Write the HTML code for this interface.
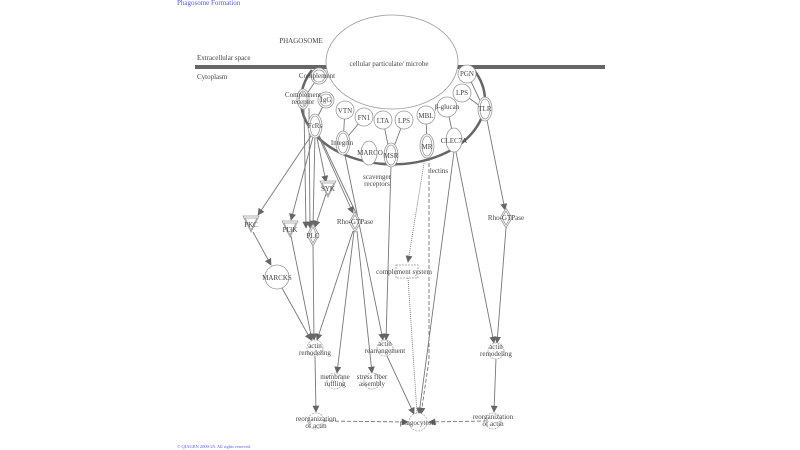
<!DOCTYPE html>
<html><head><meta charset="utf-8"><style>
html,body{margin:0;padding:0;background:#fff;width:800px;height:450px;overflow:hidden}
svg{display:block}
text{font-family:"Liberation Serif",serif;font-size:7px;fill:#444;text-anchor:middle}
.e{stroke:#777;stroke-width:0.9;fill:none}
.n{fill:#fff;stroke:#999;stroke-width:0.8}
.c{fill:#fff;stroke:#aaa;stroke-width:0.8;stroke-dasharray:2 1}
</style></head><body>
<svg width="800" height="450" viewBox="0 0 800 450" xmlns="http://www.w3.org/2000/svg">
<defs><marker id="a" viewBox="0 0 10 10" refX="9" refY="5" markerWidth="7" markerHeight="7" orient="auto-start-reverse" markerUnits="userSpaceOnUse"><path d="M0,0L10,5L0,10z" fill="#666"/></marker></defs>
<text x="177" y="5" style="text-anchor:start;fill:#55f">Phagosome Formation</text>
<text x="177" y="448" style="text-anchor:start;fill:#55f;font-size:4.5px">© QIAGEN 2000-25. All rights reserved</text>
<rect x="195" y="65" width="410" height="4" fill="#666"/>
<text x="301" y="43">PHAGOSOME</text>
<text x="197" y="60" style="text-anchor:start">Extracellular space</text>
<text x="197" y="79" style="text-anchor:start">Cytoplasm</text>
<path d="M312,70 A92,64 0 1 0 474,70" fill="none" stroke="#666" stroke-width="2.5"/>
<ellipse cx="392" cy="62" rx="66" ry="47" class="n" stroke="#888"/>
<text x="389" y="66">cellular particulate/ microbe</text>
<g class="e">
<line x1="319" y1="76" x2="304" y2="98"/><line x1="326" y1="100" x2="316" y2="120"/>
<line x1="345" y1="110" x2="343" y2="143"/><line x1="364" y1="117" x2="345" y2="140"/>
<line x1="383" y1="120" x2="390" y2="155"/><line x1="404" y1="120" x2="392" y2="152"/>
<line x1="426" y1="115" x2="427" y2="146"/><line x1="447" y1="107" x2="454" y2="140"/>
<line x1="467" y1="73" x2="484" y2="109"/><line x1="462" y1="93" x2="484" y2="109"/>
<line x1="304" y1="108" x2="306" y2="228" marker-end="url(#a)"/>
<line x1="309" y1="108" x2="310" y2="228" marker-end="url(#a)"/>
<line x1="313" y1="133" x2="258" y2="215" marker-end="url(#a)"/>
<line x1="314" y1="133" x2="291" y2="220" marker-end="url(#a)"/>
<line x1="315" y1="133" x2="313" y2="227" marker-end="url(#a)"/>
<line x1="316" y1="133" x2="326" y2="182" marker-end="url(#a)"/>
<line x1="317" y1="133" x2="353" y2="213" marker-end="url(#a)"/>
<line x1="318" y1="133" x2="356" y2="213"/>
<line x1="326" y1="194" x2="315" y2="227" marker-end="url(#a)"/>
<line x1="253" y1="232" x2="271" y2="265" marker-end="url(#a)"/>
<line x1="282" y1="288" x2="311" y2="340" marker-end="url(#a)"/>
<line x1="291" y1="236" x2="312" y2="340" marker-end="url(#a)"/>
<line x1="313" y1="246" x2="314" y2="340" marker-end="url(#a)"/>
<line x1="353" y1="231" x2="317" y2="340" marker-end="url(#a)"/>
<line x1="354" y1="231" x2="337" y2="373" marker-end="url(#a)"/>
<line x1="357" y1="231" x2="372" y2="373" marker-end="url(#a)"/>
<line x1="345" y1="155" x2="383" y2="340" marker-end="url(#a)"/>
<line x1="391" y1="165" x2="386" y2="340" marker-end="url(#a)"/>
<line x1="387" y1="356" x2="414" y2="414" marker-end="url(#a)"/>
<line x1="454" y1="152" x2="419" y2="414" marker-end="url(#a)"/>
<line x1="456" y1="152" x2="494" y2="343" marker-end="url(#a)"/>
<line x1="487" y1="120" x2="505" y2="210" marker-end="url(#a)"/>
<line x1="506" y1="228" x2="497" y2="343" marker-end="url(#a)"/>
<line x1="496" y1="358" x2="494" y2="412" marker-end="url(#a)"/>
<line x1="315" y1="356" x2="316" y2="412" marker-end="url(#a)"/>
<line x1="425" y1="157" x2="408" y2="262" stroke-dasharray="1 1" marker-end="url(#a)"/>
<line x1="408" y1="278" x2="417" y2="413" stroke-dasharray="1 1"/>
<path d="M429,157 L429,360 L421,414" stroke-dasharray="4 2" marker-end="url(#a)"/>
<line x1="323" y1="421" x2="408" y2="422" stroke-dasharray="4 2" marker-end="url(#a)"/>
<line x1="487" y1="421" x2="429" y2="422" stroke-dasharray="4 2" marker-end="url(#a)"/>
</g>
<g>
<circle cx="319" cy="76" r="8" class="n"/><circle cx="319" cy="76" r="6" class="n"/>
<ellipse cx="303" cy="99" rx="6" ry="10" class="n"/><ellipse cx="303" cy="99" rx="4" ry="8" class="n"/>
<circle cx="326" cy="100" r="8" class="n"/><circle cx="326" cy="100" r="6" class="n"/>
<ellipse cx="315" cy="126" rx="7" ry="12" class="n"/><ellipse cx="315" cy="126" rx="5" ry="10" class="n"/>
<circle cx="345" cy="110" r="9" class="n"/><circle cx="364" cy="117" r="9" class="n"/>
<circle cx="383" cy="120" r="9" class="n"/><circle cx="404" cy="120" r="9" class="n"/>
<circle cx="426" cy="115" r="9" class="n"/><circle cx="447" cy="107" r="10" class="n"/>
<circle cx="467" cy="74" r="9" class="n"/><circle cx="462" cy="93" r="9" class="n"/>
<ellipse cx="485" cy="109" rx="7" ry="12" class="n"/><ellipse cx="485" cy="109" rx="5" ry="10" class="n"/>
<ellipse cx="343" cy="143" rx="7" ry="12" class="n"/><ellipse cx="343" cy="143" rx="5" ry="10" class="n"/>
<ellipse cx="369" cy="153" rx="8" ry="12" class="n"/>
<ellipse cx="391" cy="155" rx="7" ry="12" class="n"/><ellipse cx="391" cy="155" rx="5" ry="10" class="n"/>
<ellipse cx="427" cy="146" rx="7" ry="12" class="n"/><ellipse cx="427" cy="146" rx="5" ry="10" class="n"/>
<ellipse cx="454" cy="140" rx="8" ry="12" class="n"/>
<path d="M320,181 L336,181 L328,197 Z" class="n"/><path d="M322,183 L334,183 L328,195 Z" class="n"/>
<path d="M243,216 L259,216 L251,232 Z" class="n"/><path d="M245,218 L257,218 L251,230 Z" class="n"/>
<path d="M282,221 L298,221 L290,237 Z" class="n"/><path d="M284,223 L296,223 L290,235 Z" class="n"/>
<path d="M313,224 L319,235 L313,246 L307,235 Z" class="n"/><path d="M313,227 L317,235 L313,243 L309,235 Z" class="n"/>
<path d="M355,212 L361,222 L355,232 L349,222 Z" class="n"/><path d="M355,215 L359,222 L355,229 L351,222 Z" class="n"/>
<path d="M506,208 L512,218 L506,228 L500,218 Z" class="n"/><path d="M506,211 L510,218 L506,225 L502,218 Z" class="n"/>
<circle cx="277" cy="277" r="12" class="n"/>
<rect x="396" y="265" width="22" height="13" fill="#fff" stroke="#999" stroke-width="0.8" stroke-dasharray="2 1"/>
<circle cx="315" cy="348" r="8" class="c"/><circle cx="335" cy="381" r="8" class="c"/>
<circle cx="372" cy="381" r="8" class="c"/><circle cx="385" cy="348" r="8" class="c"/>
<circle cx="496" cy="351" r="8" class="c"/><circle cx="316" cy="421" r="8" class="c"/>
<circle cx="418" cy="422" r="9" class="c"/><circle cx="493" cy="421" r="8" class="c"/>
</g>
<text x="317" y="78">Complement</text>
<text x="303" y="97">Complement</text><text x="303" y="104">receptor</text>
<text x="326" y="102">IgG</text><text x="315" y="128">FcRs</text>
<text x="345" y="113">VTN</text><text x="364" y="120">FN1</text><text x="383" y="123">LTA</text>
<text x="404" y="123">LPS</text><text x="426" y="118">MBL</text><text x="447" y="109">β-glucan</text>
<text x="467" y="76">PGN</text><text x="462" y="95">LPS</text><text x="485" y="111">TLR</text>
<text x="342" y="145">Integrin</text><text x="370" y="155">MARCO</text><text x="391" y="158">MSR</text>
<text x="427" y="149">MR</text><text x="454" y="143">CLEC7A</text>
<text x="377" y="179">scavenger</text><text x="377" y="186">receptors</text>
<text x="439" y="173">lectins</text>
<text x="328" y="191">SYK</text><text x="251" y="227">PKC</text><text x="290" y="232">PI3K</text>
<text x="313" y="238">PLC</text><text x="355" y="224">Rho-GTPase</text><text x="506" y="220">Rho-GTPase</text>
<text x="277" y="280">MARCKS</text><text x="404" y="274">complement system</text>
<text x="315" y="348">actin</text><text x="315" y="355">remodeling</text>
<text x="335" y="379">membrane</text><text x="335" y="386">ruffling</text>
<text x="372" y="379">stress fiber</text><text x="372" y="386">assembly</text>
<text x="385" y="346">actin</text><text x="385" y="353">rearrangement</text>
<text x="496" y="349">actin</text><text x="496" y="356">remodeling</text>
<text x="316" y="421">reorganization</text><text x="316" y="428">of actin</text>
<text x="418" y="425">phagocytosis</text>
<text x="493" y="419">reorganization</text><text x="493" y="426">of actin</text>
</svg>
</body></html>
